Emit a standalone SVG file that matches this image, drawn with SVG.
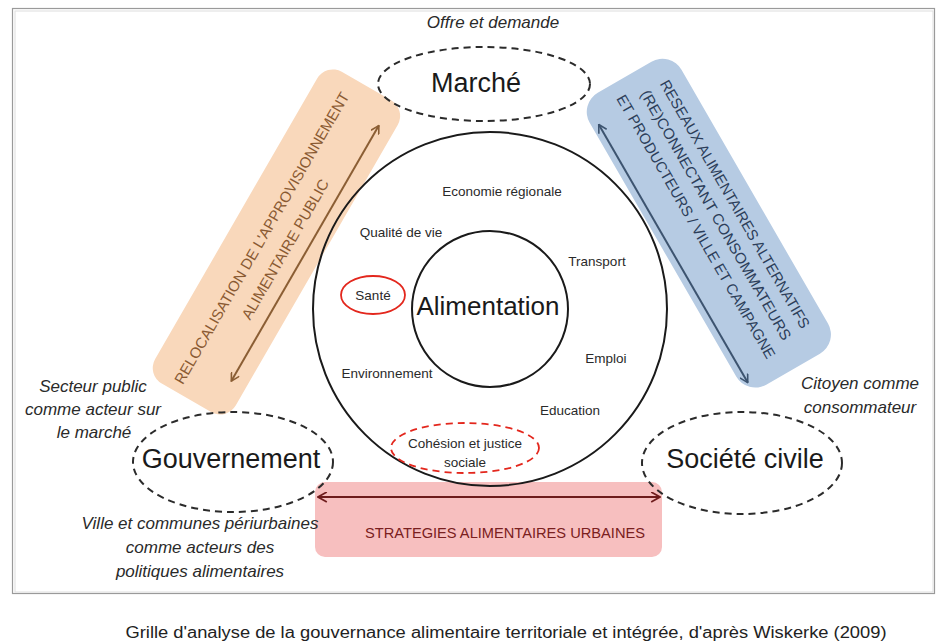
<svg xmlns="http://www.w3.org/2000/svg" width="943" height="644" viewBox="0 0 943 644">
<defs>
<style>
text{font-family:"Liberation Sans",Arial,sans-serif;fill:#222}
.it{font-style:italic;font-size:17px;text-anchor:middle;fill:#2a2a2a}
.big{font-size:27px;text-anchor:middle;fill:#1a1a1a}
.sm{font-size:13.5px;text-anchor:middle;fill:#2a2a2a}
.dash{fill:none;stroke:#2b2b2b;stroke-width:2;stroke-dasharray:7 5}
.circ{fill:none;stroke:#1a1a1a;stroke-width:2}
.band{font-size:15px;text-anchor:middle}
</style>
<marker id="mo" viewBox="0 0 10 10" refX="9" refY="5" markerWidth="10" markerHeight="10" markerUnits="userSpaceOnUse" orient="auto-start-reverse"><path d="M1,0.5 L9,5 L1,9.5" fill="none" stroke="#8b5e34" stroke-width="1.6"/></marker>
<marker id="mb" viewBox="0 0 10 10" refX="9" refY="5" markerWidth="10" markerHeight="10" markerUnits="userSpaceOnUse" orient="auto-start-reverse"><path d="M1,0.5 L9,5 L1,9.5" fill="none" stroke="#3d5470" stroke-width="1.6"/></marker>
<marker id="mr" viewBox="0 0 10 10" refX="9" refY="5" markerWidth="11" markerHeight="11" markerUnits="userSpaceOnUse" orient="auto-start-reverse"><path d="M1,0.5 L9,5 L1,9.5" fill="none" stroke="#6e1c1c" stroke-width="1.6"/></marker>
</defs>
<rect width="943" height="644" fill="#fff"/>
<rect x="12.5" y="8.5" width="922" height="585" fill="none" stroke="#9a9a9a" stroke-width="1.2"/>
<rect x="15" y="11" width="918" height="581" fill="none" stroke="#dedede" stroke-width="1"/>

<g id="band-relocalisation" transform="translate(277,240) rotate(-60)">
<rect x="-182" y="-46" width="360" height="93" rx="18" fill="#f9d8bb"/>
<text class="band" x="-6" y="-9" textLength="334" lengthAdjust="spacingAndGlyphs" style="fill:#8a5a32">RELOCALISATION DE L'APPROVISIONNEMENT</text>
<text class="band" x="-4" y="17" textLength="159" lengthAdjust="spacingAndGlyphs" style="fill:#8a5a32">ALIMENTAIRE PUBLIC</text>
</g>

<g id="band-reseaux" transform="translate(707,226) rotate(60)">
<rect x="-170" y="-56" width="337" height="106" rx="22" fill="#b6cbe3"/>
<text class="band" x="-5" y="-30" textLength="284" lengthAdjust="spacingAndGlyphs" style="fill:#2c3e5a">RESEAUX ALIMENTAIRES ALTERNATIFS</text>
<text class="band" x="-5" y="-8" textLength="286" lengthAdjust="spacingAndGlyphs" style="fill:#2c3e5a">(RE)CONNECTANT CONSOMMATEURS</text>
<text class="band" x="-5" y="15" textLength="302" lengthAdjust="spacingAndGlyphs" style="fill:#2c3e5a">ET PRODUCTEURS / VILLE ET CAMPAGNE</text>
</g>

<g id="band-strategies">
<rect x="315" y="482" width="347" height="75" rx="10" fill="#f7bfbf"/>
<text x="505" y="538" text-anchor="middle" font-size="15" textLength="280" lengthAdjust="spacingAndGlyphs" style="fill:#7a2020">STRATEGIES ALIMENTAIRES URBAINES</text>
</g>

<g id="connectors">
<line x1="-145" y1="31" x2="150" y2="31" transform="translate(277,240) rotate(-60)" stroke="#8b5e34" stroke-width="2" marker-start="url(#mo)" marker-end="url(#mo)"/>
<line x1="-142" y1="43" x2="156" y2="43" transform="translate(707,226) rotate(60)" stroke="#3d5470" stroke-width="2" marker-start="url(#mb)" marker-end="url(#mb)"/>
<line x1="318" y1="497" x2="660" y2="497" stroke="#6e1c1c" stroke-width="2" marker-start="url(#mr)" marker-end="url(#mr)"/>
</g>

<g id="domaines">
<circle class="circ" cx="490" cy="309" r="177"/>
<text class="sm" x="502" y="196">Economie régionale</text>
<text class="sm" x="401" y="237">Qualité de vie</text>
<text class="sm" x="597" y="266">Transport</text>
<text class="sm" x="606" y="363">Emploi</text>
<text class="sm" x="387" y="378">Environnement</text>
<text class="sm" x="570" y="415">Education</text>
</g>

<g id="sante">
<ellipse cx="373" cy="295" rx="32" ry="19" fill="none" stroke="#e3271d" stroke-width="1.8"/>
<text class="sm" x="373" y="300">Santé</text>
</g>

<g id="cohesion">
<ellipse cx="465" cy="448" rx="74" ry="25" fill="none" stroke="#e3271d" stroke-width="1.8" stroke-dasharray="7 5"/>
<text class="sm" x="465" y="448">Cohésion et justice</text>
<text class="sm" x="465" y="467">sociale</text>
</g>

<g id="alimentation">
<circle class="circ" cx="490" cy="309" r="78"/>
<text x="488" y="315" font-size="26" text-anchor="middle" style="fill:#1a1a1a">Alimentation</text>
</g>

<g id="marche">
<ellipse class="dash" cx="484" cy="84" rx="106" ry="37"/>
<text class="big" x="476" y="92" font-size="26">Marché</text>
<text class="it" x="493" y="28">Offre et demande</text>
</g>

<g id="gouvernement">
<ellipse class="dash" cx="233" cy="462" rx="100" ry="50"/>
<text class="big" x="231" y="468">Gouvernement</text>
<text class="it" x="93" y="392">Secteur public</text>
<text class="it" x="93" y="415">comme acteur sur</text>
<text class="it" x="94" y="438">le marché</text>
<text class="it" x="200" y="529">Ville et communes périurbaines</text>
<text class="it" x="200" y="553">comme acteurs des</text>
<text class="it" x="200" y="577">politiques alimentaires</text>
</g>

<g id="societe-civile">
<ellipse class="dash" cx="742" cy="463" rx="100" ry="51"/>
<text class="big" x="745" y="468" font-size="26">Société civile</text>
<text class="it" x="860" y="389">Citoyen comme</text>
<text class="it" x="860" y="413">consommateur</text>
</g>

<text x="506" y="638" font-size="16" text-anchor="middle" textLength="761" lengthAdjust="spacingAndGlyphs" style="fill:#222">Grille d'analyse de la gouvernance alimentaire territoriale et intégrée, d'après Wiskerke (2009)</text>
</svg>
